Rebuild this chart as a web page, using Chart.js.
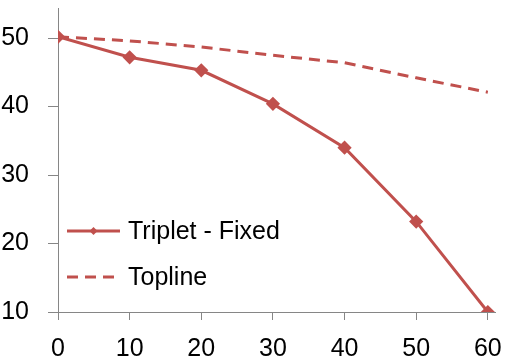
<!DOCTYPE html>
<html>
<head>
    <title>Triplet vs Topline</title>
    <script src="https://cdn.jsdelivr.net/npm/chart.js"></script>
    <style>
        body { margin: 0; background: white; }
        #wrap { width: 508px; height: 360px; }
    </style>
</head>
<body>
    <div id="wrap"><canvas id="chart"></canvas></div>
    <script>
        var xValues = [0, 10, 20, 30, 40, 50, 60];
        var tripletFixed = [50.2, 47.2, 45.3, 40.4, 34.0, 23.2, 10.0];
        var topline = [50.2, 49.6, 48.7, 47.5, 46.4, 44.2, 42.1];
        var seriesNames = ["Triplet - Fixed", "Topline"];
        var lineColor = "#C0504D";
        var axisColor = "#868686";
        var fontFamily = "'Liberation Sans', Arial, sans-serif";
        var tickFont = { family: fontFamily, size: 25 };

        function toPoints(vals) {
            return vals.map(function (v, i) { return { x: xValues[i], y: v }; });
        }

        // legend drawn inside the plot, bottom left, like the original
        var insideLegend = {
            id: "insideLegend",
            afterDraw: function (chart) {
                var ctx = chart.ctx;
                var ca = chart.chartArea;
                var rows = [ca.bottom - 81, ca.bottom - 35];
                ctx.save();
                chart.data.datasets.forEach(function (ds, i) {
                    var y = rows[i];
                    ctx.strokeStyle = ds.borderColor;
                    ctx.lineWidth = ds.borderWidth;
                    ctx.setLineDash(ds.borderDash || []);
                    ctx.beginPath();
                    ctx.moveTo(ca.left + 9, y);
                    ctx.lineTo(ca.left + 62, y);
                    ctx.stroke();
                    ctx.setLineDash([]);
                    if (ds.pointRadius > 0) {
                        ctx.fillStyle = ds.borderColor;
                        ctx.beginPath();
                        ctx.moveTo(ca.left + 35.5, y - 4);
                        ctx.lineTo(ca.left + 39.5, y);
                        ctx.lineTo(ca.left + 35.5, y + 4);
                        ctx.lineTo(ca.left + 31.5, y);
                        ctx.closePath();
                        ctx.fill();
                    }
                    ctx.fillStyle = "#000";
                    ctx.font = "25px " + fontFamily;
                    ctx.textBaseline = "alphabetic";
                    ctx.fillText(ds.label, ca.left + 70, y + 8);
                });
                ctx.restore();
            }
        };

        new Chart(document.getElementById("chart"), {
            type: "line",
            data: {
                datasets: [{
                    label: seriesNames[0],
                    data: toPoints(tripletFixed),
                    borderColor: lineColor,
                    backgroundColor: lineColor,
                    borderWidth: 3,
                    pointStyle: "rectRot",
                    pointRadius: 5,
                    pointHoverRadius: 5,
                    tension: 0
                }, {
                    label: seriesNames[1],
                    data: toPoints(topline),
                    borderColor: lineColor,
                    backgroundColor: lineColor,
                    borderWidth: 3,
                    borderDash: [11, 7],
                    pointRadius: 0,
                    tension: 0
                }]
            },
            options: {
                responsive: true,
                maintainAspectRatio: false,
                animation: false,
                layout: { padding: { top: 0, right: 13, left: 0, bottom: 0 } },
                plugins: {
                    legend: { display: false },
                    tooltip: { enabled: false }
                },
                scales: {
                    x: {
                        type: "linear",
                        min: 0,
                        max: 61,
                        afterBuildTicks: function (s) {
                            s.ticks = xValues.map(function (v) { return { value: v }; });
                        },
                        afterFit: function (s) {
                            s.height = 48;
                            s.paddingLeft = 0;
                            s.paddingRight = 0;
                        },
                        grid: { drawOnChartArea: false, tickLength: 8, color: axisColor },
                        border: { color: axisColor, width: 1 },
                        ticks: { color: "#000", font: tickFont, padding: 14, maxRotation: 0 }
                    },
                    y: {
                        min: 10,
                        max: 54.4,
                        afterBuildTicks: function (s) {
                            s.ticks = s.ticks.filter(function (t) { return t.value % 10 === 0; });
                        },
                        afterFit: function (s) {
                            s.width = 58;
                            s.paddingTop = 0;
                            s.paddingBottom = 0;
                        },
                        grid: { drawOnChartArea: false, tickLength: 10, color: axisColor },
                        border: { color: axisColor, width: 1 },
                        ticks: { color: "#000", font: tickFont, padding: 19, stepSize: 10 }
                    }
                }
            },
            plugins: [insideLegend]
        });
    </script>
</body>
</html>
